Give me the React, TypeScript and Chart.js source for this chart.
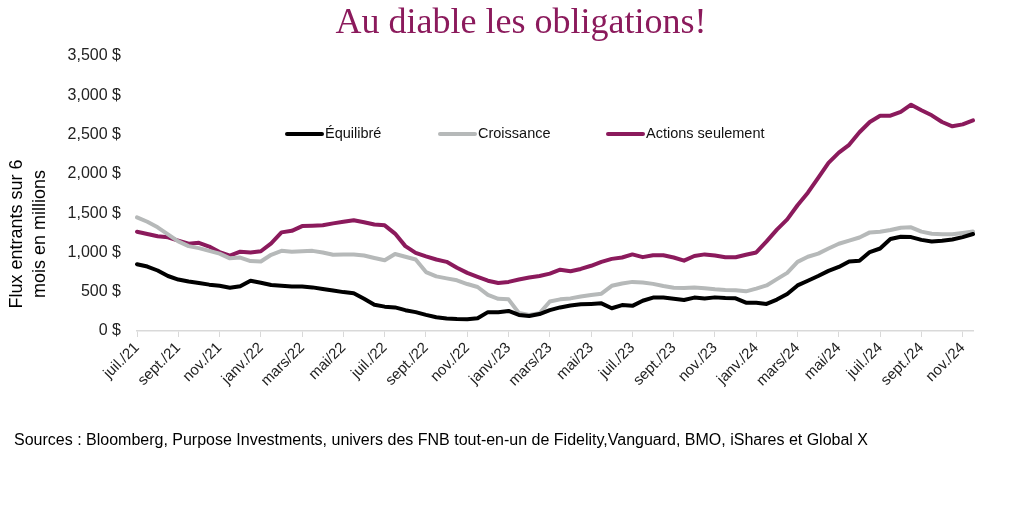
import React, { useEffect, useRef } from "react";
import { Chart, registerables } from "chart.js";

Chart.register(...registerables);

const titleText = "Au diable les obligations!";
const yTitleLines = ["Flux entrants sur 6", "mois en millions"];
const sourcesText =
  "Sources : Bloomberg, Purpose Investments, univers des FNB tout-en-un de Fidelity,Vanguard, BMO, iShares et Global X";

const seriesNames = ["Équilibré", "Croissance", "Actions seulement"];

const tickLabels = [
  "juil./21", "sept./21", "nov./21", "janv./22", "mars/22", "mai/22", "juil./22",
  "sept./22", "nov./22", "janv./23", "mars/23", "mai/23", "juil./23", "sept./23",
  "nov./23", "janv./24", "mars/24", "mai/24", "juil./24", "sept./24", "nov./24",
];

const periods = [
  "2021-07-01", "2021-07-16", "2021-08-01", "2021-08-16", "2021-09-01", "2021-09-16",
  "2021-10-01", "2021-10-16", "2021-11-01", "2021-11-16", "2021-12-01", "2021-12-16",
  "2022-01-01", "2022-01-16", "2022-02-01", "2022-02-16", "2022-03-01", "2022-03-16",
  "2022-04-01", "2022-04-16", "2022-05-01", "2022-05-16", "2022-06-01", "2022-06-16",
  "2022-07-01", "2022-07-16", "2022-08-01", "2022-08-16", "2022-09-01", "2022-09-16",
  "2022-10-01", "2022-10-16", "2022-11-01", "2022-11-16", "2022-12-01", "2022-12-16",
  "2023-01-01", "2023-01-16", "2023-02-01", "2023-02-16", "2023-03-01", "2023-03-16",
  "2023-04-01", "2023-04-16", "2023-05-01", "2023-05-16", "2023-06-01", "2023-06-16",
  "2023-07-01", "2023-07-16", "2023-08-01", "2023-08-16", "2023-09-01", "2023-09-16",
  "2023-10-01", "2023-10-16", "2023-11-01", "2023-11-16", "2023-12-01", "2023-12-16",
  "2024-01-01", "2024-01-16", "2024-02-01", "2024-02-16", "2024-03-01", "2024-03-16",
  "2024-04-01", "2024-04-16", "2024-05-01", "2024-05-16", "2024-06-01", "2024-06-16",
  "2024-07-01", "2024-07-16", "2024-08-01", "2024-08-16", "2024-09-01", "2024-09-16",
  "2024-10-01", "2024-10-16", "2024-11-01", "2024-11-16",
];

const equilibre = [
  850, 820, 770, 700, 655, 630, 612, 590, 575, 550, 570, 640,
  615, 585, 575, 565, 565, 555, 535, 515, 495, 480, 410, 335,
  310, 300, 265, 240, 205, 175, 158, 152, 151, 162, 240, 240,
  255, 205, 191, 216, 265, 300, 325, 340, 345, 352, 290, 330,
  320, 385, 425, 425, 410, 395, 425, 415, 428, 420, 416, 360,
  360, 345, 400, 470, 580, 640, 700, 765, 815, 885, 895, 1005,
  1050, 1170, 1200, 1195, 1160, 1140, 1150, 1165, 1195, 1235,
];

const croissance = [
  1447, 1390, 1320, 1230, 1140, 1080, 1055, 1020, 985, 925, 935, 890,
  885, 970, 1020, 1010, 1015, 1020, 1000, 970, 975, 975, 960, 930,
  900, 980, 945, 910, 750, 695, 670, 645, 598, 560, 460, 410,
  403, 230, 205, 225, 375, 403, 415, 440, 458, 475, 575, 605,
  625, 618, 600, 572, 550, 548, 555, 545, 530, 522, 520, 505,
  540, 580, 660, 740, 880, 945, 985, 1050, 1110, 1150, 1190, 1255,
  1264, 1285, 1315, 1320, 1265, 1238, 1230, 1232, 1248, 1265,
];

const actions = [
  1264, 1235, 1205, 1192, 1150, 1110, 1122, 1075, 1005, 958, 1010, 1000,
  1015, 1116, 1255, 1275, 1335, 1340, 1345, 1370, 1390, 1410, 1385, 1355,
  1345, 1240, 1080, 995, 950, 910, 880, 805, 740, 690, 640, 610,
  625, 655, 680, 700, 730, 780, 760, 790, 830, 880, 918, 935,
  975, 940, 965, 965, 935, 895, 955, 975, 960, 938, 938, 970,
  1000, 1140, 1290, 1420, 1600, 1760, 1950, 2140, 2270, 2370, 2530, 2660,
  2740, 2740, 2790, 2880, 2810, 2745, 2660, 2605, 2630, 2680,
];

const colors = ["#000000", "#b6b9b9", "#8b1a5c"];
const titleColor = "#8b1a5c";
const sansFont = '"Liberation Sans", Arial, sans-serif';

const decorPlugin = {
  id: "decor",
  afterDraw(chart: any) {
    const ctx = chart.ctx as CanvasRenderingContext2D;
    ctx.save();

    // Title
    ctx.font = '36px "Liberation Serif", "Times New Roman", serif';
    ctx.fillStyle = titleColor;
    ctx.textAlign = "center";
    ctx.textBaseline = "alphabetic";
    ctx.fillText(titleText, 521, 33);

    // Y axis title (two rotated lines)
    ctx.font = "18px " + sansFont;
    ctx.fillStyle = "#000";
    ctx.textBaseline = "middle";
    const titleXs = [17, 40];
    yTitleLines.forEach((line, i) => {
      ctx.save();
      ctx.translate(titleXs[i], 234);
      ctx.rotate(-Math.PI / 2);
      ctx.textAlign = "center";
      ctx.fillText(line, 0, 0);
      ctx.restore();
    });

    // Legend inside plot area
    const legendXs = [287, 440, 608];
    const legendY = 134;
    ctx.font = "14.5px " + sansFont;
    ctx.textAlign = "left";
    ctx.textBaseline = "middle";
    chart.data.datasets.forEach((ds: any, i: number) => {
      const x0 = legendXs[i];
      ctx.strokeStyle = ds.borderColor;
      ctx.lineWidth = 4;
      ctx.lineCap = "round";
      ctx.beginPath();
      ctx.moveTo(x0, legendY);
      ctx.lineTo(x0 + 35, legendY);
      ctx.stroke();
      ctx.fillStyle = "#111";
      ctx.fillText(ds.label, x0 + 38, legendY);
    });

    // Sources
    ctx.font = "16px " + sansFont;
    ctx.fillStyle = "#000";
    ctx.textAlign = "left";
    ctx.textBaseline = "middle";
    ctx.fillText(sourcesText, 14, 441);

    ctx.restore();
  },
};

export default function App() {
  const canvasRef = useRef<HTMLCanvasElement | null>(null);

  useEffect(() => {
    if (!canvasRef.current) return;
    const seriesData = [equilibre, croissance, actions];
    const chart = new Chart(canvasRef.current, {
      type: "line",
      data: {
        labels: periods,
        datasets: seriesNames.map((name, i) => ({
          label: name,
          data: seriesData[i],
          borderColor: colors[i],
          backgroundColor: colors[i],
          borderWidth: 4,
          pointRadius: 0,
          tension: 0,
          borderJoinStyle: "round" as const,
          borderCapStyle: "round" as const,
        })),
      },
      options: {
        responsive: false,
        maintainAspectRatio: false,
        animation: false,
        layout: { padding: { top: 56, left: 0, right: 51, bottom: 100 } },
        plugins: {
          legend: { display: false },
          title: { display: false },
          tooltip: { enabled: false },
        },
        scales: {
          x: {
            type: "category",
            offset: false,
            grid: {
              display: true,
              drawOnChartArea: false,
              drawTicks: true,
              tickLength: 6,
              color: (c: any) => (c.index % 4 === 0 ? "#d9d9d9" : "rgba(0,0,0,0)"),
              tickColor: (c: any) => (c.index % 4 === 0 ? "#d9d9d9" : "rgba(0,0,0,0)"),
            },
            border: { display: true, color: "#d9d9d9", width: 1.5 },
            ticks: {
              autoSkip: false,
              maxRotation: 45,
              minRotation: 45,
              padding: 2,
              color: "#222",
              font: { size: 15, family: sansFont },
              callback: (_v: any, index: number) =>
                index % 4 === 0 ? tickLabels[index / 4] : "",
            },
            afterFit: (s: any) => {
              s.height = 85;
            },
          },
          y: {
            min: 0,
            max: 3500,
            grid: { display: false, drawTicks: false },
            border: { display: false },
            ticks: {
              stepSize: 500,
              padding: 16,
              color: "#222",
              font: { size: 16, family: sansFont },
              callback: (v: any) => Number(v).toLocaleString("en-US") + " $",
            },
            afterFit: (s: any) => {
              s.width = 137;
            },
          },
        },
      },
      plugins: [decorPlugin],
    });
    return () => chart.destroy();
  }, []);

  return (
    <div style={{ position: "absolute", left: 0, top: 0, width: 1024, height: 516, background: "#fff" }}>
      <canvas ref={canvasRef} width={1024} height={516} />
    </div>
  );
}
